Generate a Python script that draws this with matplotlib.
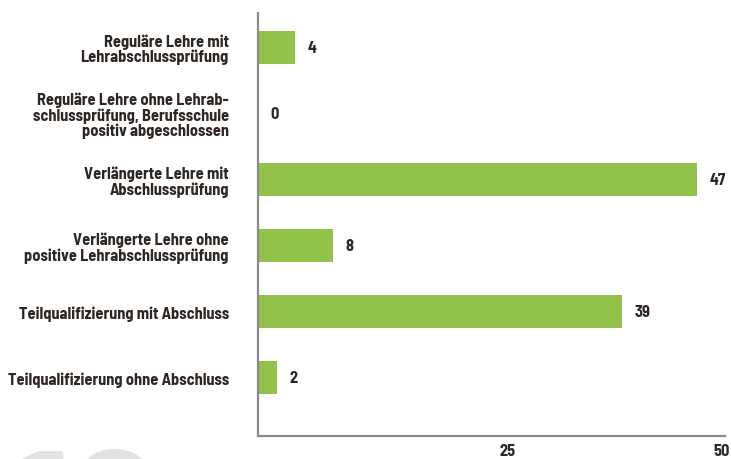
import matplotlib
matplotlib.use("Agg")
import matplotlib.pyplot as plt
import matplotlib.transforms as mtransforms
from matplotlib import font_manager
from matplotlib.font_manager import FontProperties

categories = [
    "Reguläre Lehre mit\nLehrabschlussprüfung",
    "Reguläre Lehre ohne Lehrab-\nschlussprüfung, Berufsschule\npositiv abgeschlossen",
    "Verlängerte Lehre mit\nAbschlussprüfung",
    "Verlängerte Lehre ohne\npositive Lehrabschlussprüfung",
    "Teilqualifizierung mit Abschluss",
    "Teilqualifizierung ohne Abschluss",
]
values = [4, 0, 47, 8, 39, 2]
xticks = [25, 50]
xticklabels = ["25", "50"]

fpath = None
for fam, wts in [("Barlow Semi Condensed", (700, 600)), ("Barlow Condensed", (700, 600))]:
    for w in wts:
        hits = [f for f in font_manager.fontManager.ttflist
                if f.name == fam and f.weight == w and f.style == "normal"]
        if hits:
            fpath = hits[0].fname
            break
    if fpath:
        break

def fp(size):
    if fpath:
        return FontProperties(fname=fpath, size=size)
    return FontProperties(family="DejaVu Sans", weight="bold", size=size)

txt = "#2d2622"
green = "#93c24b"

fig = plt.figure(figsize=(7.31, 4.60), dpi=100)

# pick font size so the longest single-line label matches the reference width (~221 px)
r = fig.canvas.get_renderer()
probe = fig.text(0, 0, categories[-1], fontproperties=fp(10))
w10 = probe.get_window_extent(renderer=r).width
probe.remove()
FS = max(9.0, min(12.5, 10 * 221 / w10))

ax = fig.add_axes([258/731, 1-437/460, (725-258)/731, (437-14)/460])

pos = list(range(len(values)))
ax.barh(pos, values, height=0.5, color=green)
ax.set_ylim(len(values) - 1 + 0.88, -0.52)
ax.set_xlim(0, 50)

for p, v in zip(pos, values):
    ax.annotate(str(v), (v, p), xytext=(9, 0), textcoords="offset points",
                ha="left", va="center", fontproperties=fp(FS), color=txt)

ax.set_yticks(pos)
ax.set_yticklabels(categories, fontproperties=fp(FS), color=txt, linespacing=1.0)
ax.tick_params(axis="y", length=0, pad=21)
ax.set_xticks(xticks)
ax.set_xticklabels(xticklabels, fontproperties=fp(FS), color=txt)
ax.tick_params(axis="x", length=0, pad=5)
offsets = [16, -3]
for lab, dx in zip(ax.get_xticklabels(), offsets):
    lab.set_transform(lab.get_transform() + mtransforms.ScaledTranslation(dx/100, 0, fig.dpi_scale_trans))

for s in ["top", "right"]:
    ax.spines[s].set_visible(False)
for s in ["left", "bottom"]:
    ax.spines[s].set_color("#8a8a8a")
    ax.spines[s].set_linewidth(1.6)

fig.text(0.02, 1 - 451/460, "10", fontproperties=fp(125), color="#e3e3e3",
         ha="left", va="top", zorder=-1)

fig.savefig("out.png", dpi=100)
